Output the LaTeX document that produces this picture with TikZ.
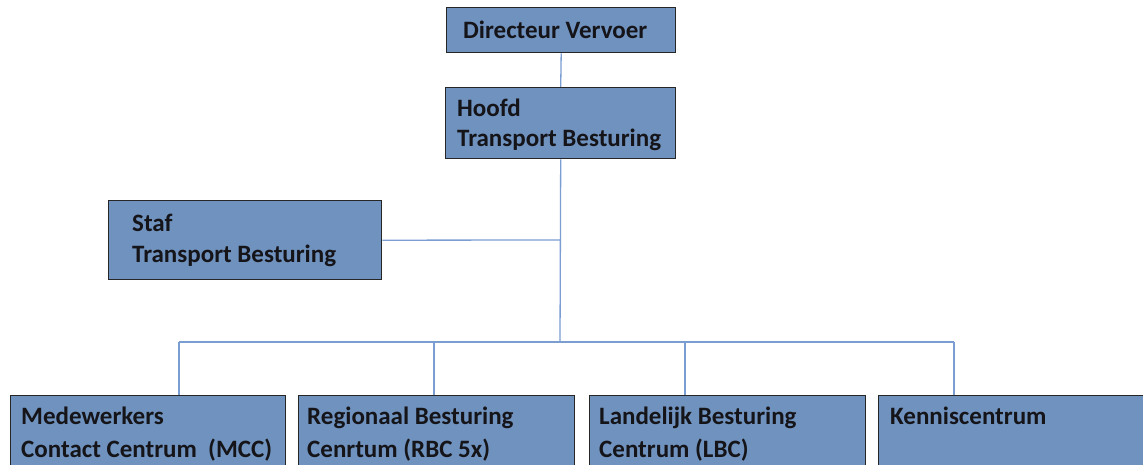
\documentclass[tikz,border=0pt]{standalone}
\usepackage{fontspec}
\setmainfont{Carlito}
\definecolor{boxfill}{RGB}{112,146,190}
\definecolor{linkc}{RGB}{122,158,210}
\definecolor{txt}{RGB}{20,20,25}
\begin{document}
\begin{tikzpicture}[x=1pt,y=1pt,
  box/.style={draw=black!85, line width=1.4pt, fill=boxfill, inner sep=0pt, anchor=north west},
  lbl/.style={anchor=base west, inner sep=0pt, font=\fontsize{25}{30}\selectfont\bfseries, text=txt},
  link/.style={draw=linkc, line width=1.3pt}]
\useasboundingbox (0,0) rectangle (1143,-465);
\clip (0,0) rectangle (1143,-465);
\fill[white] (0,0) rectangle (1143,-465);
% boxes
\node[box, minimum width=229pt, minimum height=45pt] (dir) at (446,-7) {};
\node[box, minimum width=230pt, minimum height=71pt] (hoofd) at (445,-87) {};
\node[box, minimum width=273pt, minimum height=79pt] (staf) at (108,-200) {};
\node[box, minimum width=275pt, minimum height=90pt] (mcc) at (10,-395) {};
\node[box, minimum width=276pt, minimum height=90pt] (rbc) at (298,-395) {};
\node[box, minimum width=276pt, minimum height=90pt] (lbc) at (589,-395) {};
\node[box, minimum width=280pt, minimum height=90pt] (ken) at (878,-395) {};
% texts
\node[lbl] (tdir) at (463,-39) {Directeur Vervoer};
\node[lbl] (th1) at (457,-117) {Hoofd};
\node[lbl] (th2) at (457,-147) {Transport Besturing};
\node[lbl] (ts1) at (132,-232) {Staf};
\node[lbl] (ts2) at (132,-262) {Transport Besturing};
\node[lbl] (tm1) at (21,-424) {Medewerkers};
\node[lbl] (tm2) at (21,-457) {Contact Centrum\ \ (MCC)};
\node[lbl] (tr1) at (307,-424) {Regionaal Besturing};
\node[lbl] (tr2) at (307,-457) {Cenrtum (RBC 5x)};
\node[lbl] (tl1) at (599,-424) {Landelijk Besturing};
\node[lbl] (tl2) at (599,-457) {Centrum (LBC)};
\node[lbl] (tk1) at (890,-424) {Kenniscentrum};
% connectors
\coordinate (sj) at (560,-240);
\coordinate (bus) at (560,-342);
\coordinate (b1) at (179,-342);
\coordinate (b2) at (434,-342);
\coordinate (b3) at (685,-342);
\coordinate (b4) at (954,-342);
\draw[link] (dir.south) -- (hoofd.north);
\draw[link] (hoofd.south) -- (bus);
\draw[link] (staf.east) -- (sj);
\draw[link] (b1) -- (b4);
\draw[link] (b1) -- (b1 |- mcc.north);
\draw[link] (b2) -- (b2 |- rbc.north);
\draw[link] (b3) -- (b3 |- lbc.north);
\draw[link] (b4) -- (b4 |- ken.north);
\end{tikzpicture}
\end{document}
